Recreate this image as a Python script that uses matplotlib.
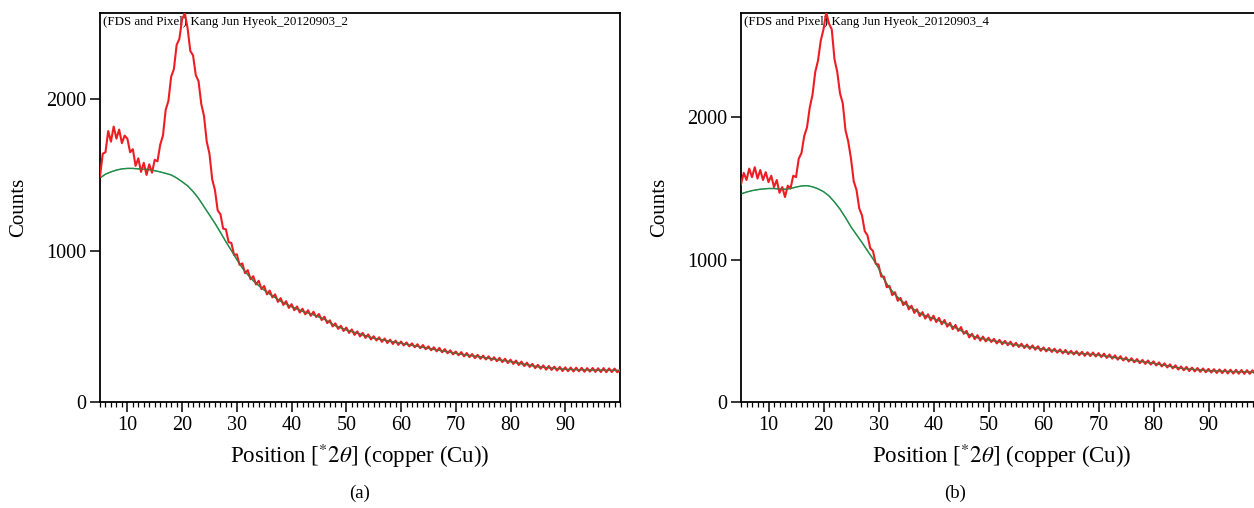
import matplotlib
matplotlib.use("Agg")
import matplotlib.pyplot as plt
from matplotlib.ticker import MultipleLocator, FixedLocator

plt.rcParams['font.family'] = ['Liberation Serif', 'DejaVu Serif']
plt.rcParams['mathtext.fontset'] = 'stix'

# ---------------- data ----------------
# red measured pattern, 2theta from 5.0 to 100.0 in 0.5 degree steps
pos_red = [5.0 + 0.5 * i for i in range(191)]

counts_a = [
    1490, 1640, 1650, 1790, 1720, 1820, 1740, 1800, 1710, 1760,
    1740, 1650, 1670, 1560, 1610, 1520, 1580, 1500, 1570, 1515,
    1600, 1590, 1700, 1760, 1930, 1990, 2150, 2200, 2360, 2400,
    2530, 2570, 2470, 2320, 2290, 2160, 2120, 1970, 1890, 1720,
    1640, 1470, 1400, 1265, 1240, 1145, 1140, 1055, 1050, 970,
    975, 905, 915, 850, 870, 810, 830, 775, 800, 745,
    765, 710, 735, 690, 710, 660, 685, 640, 665, 620,
    645, 605, 630, 590, 615, 578, 605, 568, 595, 560,
    580, 540, 562, 520, 538, 498, 518, 482, 502, 468,
    490, 455, 478, 442, 465, 432, 455, 422, 445, 412,
    433, 405, 426, 396, 418, 388, 410, 382, 404, 376,
    398, 372, 392, 366, 386, 360, 380, 354, 375, 347,
    366, 340, 360, 333, 356, 327, 348, 320, 340, 313,
    332, 307, 328, 300, 322, 295, 315, 288, 310, 284,
    305, 279, 300, 274, 294, 268, 290, 262, 284, 256,
    278, 250, 272, 243, 265, 236, 258, 230, 250, 222,
    244, 218, 240, 212, 236, 210, 232, 206, 230, 203,
    227, 202, 226, 200, 225, 201, 224, 198, 222, 199,
    223, 197, 221, 196, 222, 195, 220, 196, 219, 195,
    210,
]

counts_b = [
    1530, 1610, 1560, 1640, 1580, 1650, 1570, 1630, 1560, 1615,
    1545, 1590, 1510, 1560, 1470, 1510, 1440, 1520, 1500, 1590,
    1580, 1710, 1750, 1870, 1930, 2070, 2160, 2320, 2400, 2540,
    2620, 2740, 2660, 2620, 2410, 2320, 2170, 2100, 1910, 1830,
    1710, 1550, 1490, 1360, 1310, 1200, 1170, 1080, 1060, 970,
    965, 880, 880, 805, 815, 750, 770, 710, 730, 680,
    705, 650, 675, 625, 650, 602, 630, 585, 615, 572,
    605, 560, 590, 545, 575, 528, 555, 510, 540, 498,
    525, 478, 498, 452, 478, 440, 468, 430, 458, 424,
    450, 420, 442, 410, 435, 404, 428, 398, 422, 390,
    414, 385, 408, 378, 402, 372, 396, 366, 390, 358,
    382, 354, 378, 350, 373, 345, 368, 340, 364, 335,
    358, 332, 355, 327, 351, 323, 348, 321, 346, 318,
    342, 314, 338, 308, 332, 303, 326, 296, 320, 290,
    312, 283, 306, 277, 300, 271, 294, 266, 290, 261,
    284, 255, 277, 248, 270, 241, 263, 234, 256, 226,
    248, 221, 245, 216, 240, 213, 237, 210, 234, 207,
    231, 205, 229, 202, 227, 201, 226, 199, 225, 198,
    224, 197, 223, 196, 222, 196, 221, 195, 220, 195,
    208,
]

# green fitted background
pos_bg = [5, 6, 7, 8, 9, 10, 11, 12, 13, 14, 15, 16, 17, 18, 19, 20, 21, 22,
          23, 24, 25, 26, 27, 28, 29, 30, 31, 32, 33, 34, 35, 36, 38, 40, 42,
          44, 46, 48, 50, 55, 60, 65, 70, 75, 80, 85, 90, 95, 100]
bg_a = [1480, 1505, 1520, 1532, 1540, 1543, 1543, 1540, 1538, 1535, 1528,
        1520, 1510, 1500, 1480, 1455, 1428, 1390, 1345, 1290, 1235, 1180,
        1120, 1058, 1000, 940, 885, 840, 800, 768, 738, 712, 665, 628, 598,
        575, 545, 502, 475, 420, 386, 353, 320, 293, 265, 231, 214, 209, 207]
bg_b = [1462, 1475, 1485, 1492, 1497, 1500, 1500, 1496, 1495, 1500, 1510,
        1518, 1520, 1512, 1498, 1478, 1448, 1405, 1355, 1295, 1230, 1175,
        1120, 1062, 1005, 940, 862, 800, 755, 715, 685, 660, 612, 585, 555,
        520, 480, 450, 435, 400, 369, 345, 329, 298, 270, 235, 218, 211, 208]

titles = ["(FDS and Pixel) Kang Jun Hyeok_20120903_2",
          "(FDS and Pixel) Kang Jun Hyeok_20120903_4"]
captions = ["(a)", "(b)"]
ylims = [2569, 2737]
yticks = [0, 1000, 2000]
xticks = [10, 20, 30, 40, 50, 60, 70, 80, 90]

RED = '#ee1d24'
GREEN = '#1f8c47'

W, H = 1254, 508
fig = plt.figure(figsize=(W / 100, H / 100), dpi=100)

# axes rectangles in pixels: left, top, right, bottom
rects = [(100, 13.3, 620, 401.7), (741, 12.7, 1263.5, 401.7)]
caption_x = [360, 955]

for i, (reds, bgs) in enumerate([(counts_a, bg_a), (counts_b, bg_b)]):
    l, t, r, b = rects[i]
    ax = fig.add_axes([l / W, (H - b) / H, (r - l) / W, (b - t) / H])
    ax.plot(pos_bg, bgs, color=GREEN, lw=1.0, zorder=2)
    ax.plot(pos_red, reds, color=RED, lw=1.5, zorder=3)
    ax.plot(pos_bg, bgs, color=GREEN, lw=0.9, zorder=4, alpha=0.6)
    ax.set_xlim(5, 100)
    ax.set_ylim(0, ylims[i])
    ax.xaxis.set_major_locator(FixedLocator(xticks))
    ax.xaxis.set_minor_locator(MultipleLocator(1))
    ax.yaxis.set_major_locator(FixedLocator(yticks))
    ax.tick_params(axis='both', which='major', direction='out', length=7,
                   width=1.1, labelsize=14.5, pad=3)
    ax.tick_params(axis='x', which='minor', direction='out', length=3.5,
                   width=0.9)
    for s in ax.spines.values():
        s.set_linewidth(1.3)
    ax.set_xlabel(r'Position [$^{*}2\theta$] (copper (Cu))', fontsize=16.5,
                  labelpad=5)
    ax.set_ylabel('Counts', fontsize=15, labelpad=13)
    ax.text(0.006, 0.992, titles[i], transform=ax.transAxes, ha='left',
            va='top', fontsize=9.3, zorder=1)
    fig.text(caption_x[i] / W, 1 - 493 / H, captions[i], ha='center',
             va='center', fontsize=13.5)

fig.savefig('out.png', dpi=100)
